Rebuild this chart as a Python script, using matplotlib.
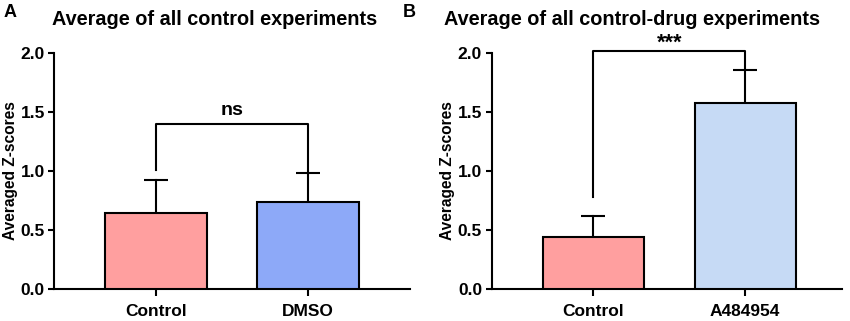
import matplotlib.pyplot as plt

plt.rcParams["font.family"] = ["Liberation Sans", "DejaVu Sans"]
plt.rcParams["font.weight"] = "bold"

# ── Data ───────────────────────────────────────────────────────
labels_a = ["Control", "DMSO"]
means_a = [0.64, 0.74]
errs_a = [0.28, 0.245]
colors_a = ["#FF9F9F", "#8DA9F8"]

labels_b = ["Control", "A484954"]
means_b = [0.44, 1.575]
errs_b = [0.18, 0.28]
colors_b = ["#FF9F9F", "#C6DAF5"]

yticks = [0.0, 0.5, 1.0, 1.5, 2.0]

# ── Figure ─────────────────────────────────────────────────────
fig = plt.figure(figsize=(8.5, 3.21), dpi=100)
ax_a = fig.add_axes([0.0641, 0.0997, 0.4182, 0.7352])
ax_b = fig.add_axes([0.5785, 0.0997, 0.4121, 0.7352])

LW = 1.5


def draw_panel(ax, labels, means, errs, colors, xmax):
    x = range(len(labels))
    ax.bar(x, means, width=0.665, color=colors, edgecolor="black",
           linewidth=LW, zorder=3)
    for xi, m, e in zip(x, means, errs):
        ax.plot([xi, xi], [m, m + e], color="black", lw=LW, zorder=2)
        ax.plot([xi - 0.08, xi + 0.08], [m + e, m + e], color="black",
                lw=LW, zorder=2, solid_capstyle="butt")
    ax.set_xlim(-0.668, xmax)
    ax.set_ylim(0, 2.0)
    ax.set_yticks(yticks)
    ax.set_yticklabels([f"{v:.1f}" for v in yticks], fontsize=12.5,
                       fontweight="bold")
    ax.set_xticks(list(x))
    ax.set_xticklabels(labels, fontsize=12.5, fontweight="bold")
    ax.set_ylabel("Averaged Z-scores", fontsize=11.2, fontweight="bold",
                  labelpad=2)
    ax.spines["top"].set_visible(False)
    ax.spines["right"].set_visible(False)
    ax.spines["left"].set_linewidth(LW)
    ax.spines["bottom"].set_linewidth(LW)
    ax.tick_params(axis="y", length=4, width=LW, pad=3)
    ax.tick_params(axis="x", length=5, width=LW, pad=6)


def bracket(ax, y, left_end, right_end, text, text_y, size):
    ax.plot([0, 0, 1, 1], [left_end, y, y, right_end], color="black",
            lw=LW, clip_on=False, zorder=4)
    ax.text(0.5, text_y, text, ha="center", va="bottom", fontsize=size,
            fontweight="bold", clip_on=False)


draw_panel(ax_a, labels_a, means_a, errs_a, colors_a, 1.671)
draw_panel(ax_b, labels_b, means_b, errs_b, colors_b, 1.638)

bracket(ax_a, 1.4, 1.01, 0.985, "ns", 1.44, 14)
bracket(ax_b, 2.015, 0.78, 1.855, "***", 1.99, 15.5)

fig.text(0.252, 0.938, "Average of all control experiments", ha="center",
         va="center", fontsize=14.3, fontweight="bold")
fig.text(0.744, 0.938, "Average of all control-drug experiments",
         ha="center", va="center", fontsize=14.3, fontweight="bold")
fig.text(0.012, 0.962, "A", ha="center", va="center", fontsize=13,
         fontweight="bold")
fig.text(0.482, 0.962, "B", ha="center", va="center", fontsize=13,
         fontweight="bold")

fig.savefig("out.png", dpi=100)
